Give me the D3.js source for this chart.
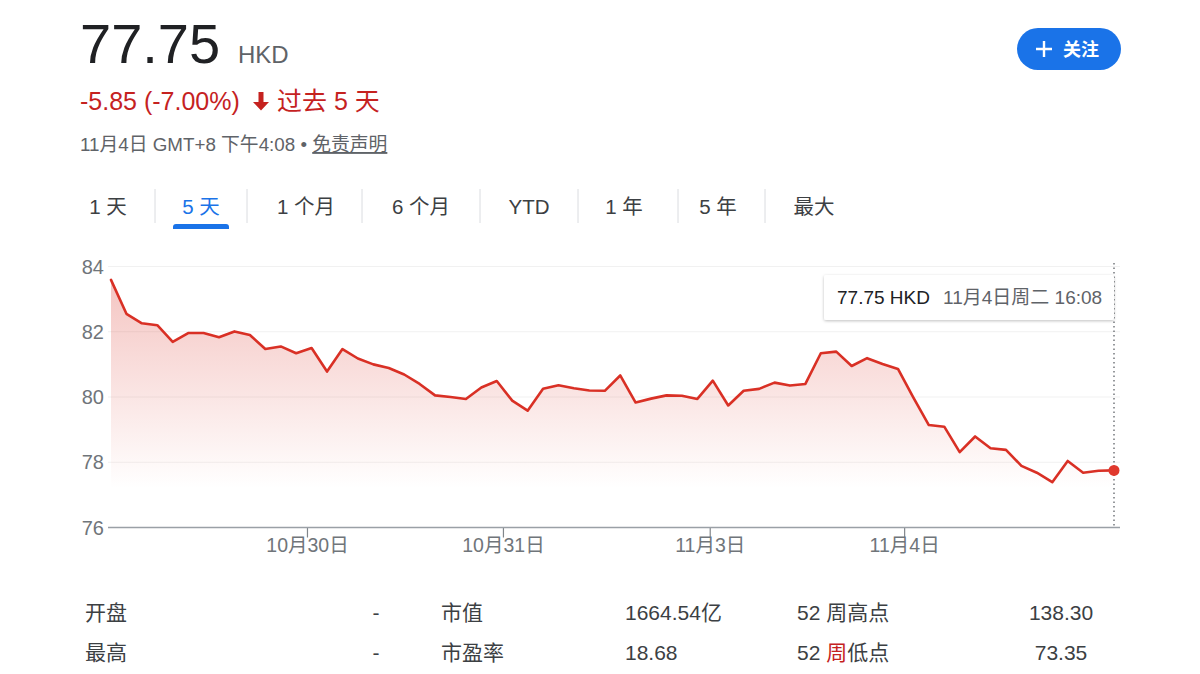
<!DOCTYPE html>
<html>
<head>
<meta charset="utf-8">
<script src="https://cdn.jsdelivr.net/npm/d3@7"></script>
<style>
  html, body { margin: 0; padding: 0; background: #fff; }
  svg { display: block; }
  text { font-family: "Liberation Sans", Arial, "Noto Sans CJK SC", sans-serif; }
</style>
</head>
<body>
<svg id="chart" width="1200" height="674"></svg>
<script>
// Quote header
const lastPrice = 77.75;
const currency = "HKD";
const changeText = "-5.85 (-7.00%)";
const periodText = "过去 5 天";
const timestampText = "11月4日 GMT+8 下午4:08 • ";
const disclaimerText = "免责声明";

// Range tabs
const tabLabels = ["1 天", "5 天", "1 个月", "6 个月", "YTD", "1 年", "5 年", "最大"];
const tabCenters = [108, 201, 306, 421, 529, 624, 718, 814];
const tabSeparators = [155, 247, 362, 480, 578, 678, 765];
const activeTab = 1;

// Five-day price series (HKD), sampled at regular intervals
const prices = [
  83.59, 82.55, 82.26, 82.20, 81.69, 81.96, 81.96, 81.83, 82.01, 81.90,
  81.47, 81.55, 81.34, 81.50, 80.78, 81.47, 81.18, 81.00, 80.89, 80.69,
  80.40, 80.05, 80.00, 79.94, 80.29, 80.49, 79.89, 79.58, 80.25, 80.36,
  80.27, 80.20, 80.19, 80.66, 79.83, 79.95, 80.05, 80.04, 79.94, 80.50,
  79.74, 80.19, 80.25, 80.44, 80.35, 80.40, 81.34, 81.39, 80.95, 81.19,
  81.01, 80.86, 79.98, 79.14, 79.09, 78.31, 78.79, 78.43, 78.38, 77.89,
  77.68, 77.39, 78.04, 77.68, 77.74, 77.75
];

// Axis ticks
const yTicks = [76, 78, 80, 82, 84];
const xTickLabels = ["10月30日", "10月31日", "11月3日", "11月4日"];
const xTickIndex = [12.7, 25.4, 38.8, 51.4];

// Hover readout
const tooltipPrice = "77.75 HKD";
const tooltipTime = "11月4日周二 16:08";

// Key statistics table
const statLabelsLeft = ["开盘", "最高"];
const statValuesLeft = ["-", "-"];
const statLabelsMid = ["市值", "市盈率"];
const statValuesMid = ["1664.54亿", "18.68"];
const statLabelsRight = ["52 周高点", "52 周低点"];
const statValuesRight = ["138.30", "73.35"];

const svg = d3.select("#chart");
const RED = "#d93025";
const GREY = "#70757a";
const DARK = "#202124";

// ---------- header ----------
const header = svg.append("g");
header.append("text").attr("x", 80).attr("y", 63)
  .attr("font-size", 56).attr("fill", DARK).text(lastPrice.toFixed(2));
header.append("text").attr("x", 238).attr("y", 63)
  .attr("font-size", 24).attr("fill", "#5f6368").text(currency);

header.append("text").attr("x", 80).attr("y", 110)
  .attr("font-size", 25).attr("fill", "#c5221f").text(changeText);
// down arrow
header.append("path")
  .attr("d", "M258.5,92 L263.5,92 L263.5,102 L269,102 L261,110.5 L253,102 L258.5,102 Z")
  .attr("fill", "#c5221f");
header.append("text").attr("x", 277).attr("y", 110)
  .attr("font-size", 25).attr("fill", "#c5221f").text(periodText);

const ts = header.append("text").attr("x", 80).attr("y", 151)
  .attr("font-size", 18.8).attr("fill", "#5f6368");
ts.append("tspan").text(timestampText);
ts.append("tspan").attr("text-decoration", "underline").text(disclaimerText);

// follow button
const btn = svg.append("g");
btn.append("rect").attr("x", 1017).attr("y", 28).attr("width", 104).attr("height", 42)
  .attr("rx", 21).attr("fill", "#1a73e8");
btn.append("path").attr("d", "M1036,49 L1052,49 M1044,41 L1044,57")
  .attr("stroke", "#fff").attr("stroke-width", 2.4);
btn.append("text").attr("x", 1063).attr("y", 55.5).attr("font-size", 18)
  .attr("font-weight", "bold").attr("fill", "#fff").text("关注");

// ---------- range tabs ----------
const tabs = svg.append("g");
tabs.selectAll("text.tab").data(tabLabels).join("text")
  .attr("class", "tab")
  .attr("x", (d, i) => tabCenters[i]).attr("y", 214)
  .attr("text-anchor", "middle").attr("font-size", 20.5)
  .attr("fill", (d, i) => i === activeTab ? "#1a73e8" : "#3c4043")
  .text(d => d);
tabs.selectAll("line.sep").data(tabSeparators).join("line")
  .attr("class", "sep")
  .attr("x1", d => d).attr("x2", d => d).attr("y1", 189).attr("y2", 223)
  .attr("stroke", "#dadce0").attr("stroke-width", 1);
const ac = tabCenters[activeTab];
tabs.append("path")
  .attr("d", `M${ac - 28},229 L${ac - 28},227 Q${ac - 28},224 ${ac - 25},224 L${ac + 25},224 Q${ac + 28},224 ${ac + 28},227 L${ac + 28},229 Z`)
  .attr("fill", "#1a73e8");

// ---------- price chart ----------
const x = d3.scaleLinear().domain([0, prices.length - 1]).range([111, 1114]);
const y = d3.scaleLinear().domain([76, 84]).range([527.5, 266.5]);
const plotLeft = 108, plotRight = 1120;

const defs = svg.append("defs");
const grad = defs.append("linearGradient").attr("id", "areaFill")
  .attr("gradientUnits", "userSpaceOnUse")
  .attr("x1", 0).attr("x2", 0).attr("y1", y(83.6)).attr("y2", y(77.2));
grad.append("stop").attr("offset", 0).attr("stop-color", RED).attr("stop-opacity", 0.28);
grad.append("stop").attr("offset", 1).attr("stop-color", RED).attr("stop-opacity", 0);

const chart = svg.append("g");

// horizontal grid
chart.selectAll("line.grid").data(yTicks.slice(1)).join("line")
  .attr("class", "grid")
  .attr("x1", plotLeft).attr("x2", plotRight)
  .attr("y1", d => y(d)).attr("y2", d => y(d))
  .attr("stroke", "#f1f1f1").attr("stroke-width", 1.2);

// y labels
chart.selectAll("text.ylab").data(yTicks).join("text")
  .attr("class", "ylab")
  .attr("x", 104).attr("y", d => y(d) + 7)
  .attr("text-anchor", "end").attr("font-size", 20).attr("fill", GREY)
  .text(d => d);

// area + line
const area = d3.area().x((d, i) => x(i)).y0(y(76)).y1(d => y(d));
const line = d3.line().x((d, i) => x(i)).y(d => y(d));
chart.append("path").datum(prices).attr("d", area).attr("fill", "url(#areaFill)");

// x axis
const xAxis = d3.axisBottom(x).tickValues(xTickIndex)
  .tickFormat((d, i) => xTickLabels[i]).tickSize(10).tickSizeOuter(0);
const gx = chart.append("g").attr("transform", `translate(0,${y(76)})`).call(xAxis);
gx.select(".domain").remove();
gx.selectAll(".tick line").attr("stroke", "#80868b").attr("stroke-width", 1.2);
gx.selectAll(".tick text").attr("font-size", 19.5).attr("fill", GREY).attr("dy", "0.6em")
  .attr("font-family", "\"Liberation Sans\", Arial, \"Noto Sans CJK SC\", sans-serif");
chart.append("line").attr("x1", plotLeft).attr("x2", plotRight)
  .attr("y1", y(76)).attr("y2", y(76))
  .attr("stroke", "#9aa0a6").attr("stroke-width", 1.5);

chart.append("path").datum(prices).attr("d", line)
  .attr("fill", "none").attr("stroke", RED).attr("stroke-width", 2.6)
  .attr("stroke-linejoin", "round").attr("stroke-linecap", "round");

// hover cursor
const lastI = prices.length - 1;
chart.append("line").attr("x1", x(lastI)).attr("x2", x(lastI))
  .attr("y1", 263).attr("y2", y(76))
  .attr("stroke", "#5f6368").attr("stroke-width", 1.3).attr("stroke-dasharray", "1.5,3");
chart.append("circle").attr("cx", x(lastI)).attr("cy", y(prices[lastI])).attr("r", 5.5)
  .attr("fill", "#e0382d");

// tooltip
const tipFilter = defs.append("filter").attr("id", "tipShadow")
  .attr("x", -0.1).attr("y", -0.3).attr("width", 1.2).attr("height", 1.8);
tipFilter.append("feDropShadow").attr("dx", 0).attr("dy", 1).attr("stdDeviation", 1.5)
  .attr("flood-color", "#000").attr("flood-opacity", 0.25);
const tip = chart.append("g");
tip.append("rect").attr("x", 824).attr("y", 275).attr("width", 290).attr("height", 45)
  .attr("rx", 2).attr("fill", "#fff").attr("filter", "url(#tipShadow)");
tip.append("text").attr("x", 837).attr("y", 304).attr("font-size", 19)
  .attr("fill", DARK).text(tooltipPrice);
tip.append("text").attr("x", 943).attr("y", 304).attr("font-size", 19)
  .attr("fill", "#5f6368").text(tooltipTime);

// ---------- statistics table ----------
const table = svg.append("g").attr("font-size", 21).attr("fill", "#3c4043");
const rowY = [620, 660];
rowY.forEach((ry, r) => {
  table.append("text").attr("x", 85).attr("y", ry).text(statLabelsLeft[r]);
  table.append("text").attr("x", 376).attr("y", ry).attr("text-anchor", "middle").text(statValuesLeft[r]);
  table.append("text").attr("x", 441).attr("y", ry).text(statLabelsMid[r]);
  table.append("text").attr("x", 625).attr("y", ry).text(statValuesMid[r]);
  const lab = table.append("text").attr("x", 797).attr("y", ry);
  const parts = statLabelsRight[r].split("周");
  lab.append("tspan").text(parts[0]);
  lab.append("tspan").attr("fill", r === 1 ? "#c5221f" : null).text("周");
  lab.append("tspan").text(parts[1]);
  table.append("text").attr("x", 1061).attr("y", ry).attr("text-anchor", "middle").text(statValuesRight[r]);
});
</script>
</body>
</html>
